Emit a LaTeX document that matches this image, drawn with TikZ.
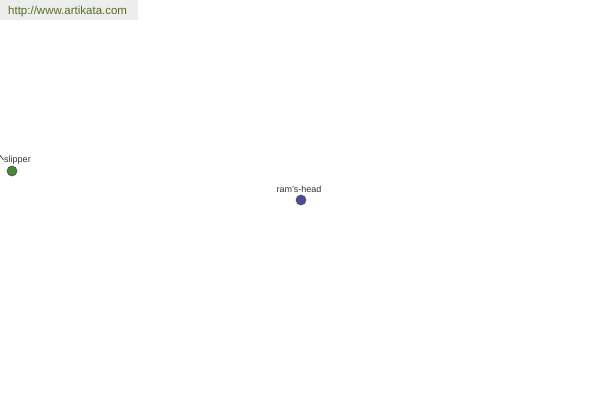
\documentclass[tikz,border=0pt]{standalone}
\usepackage{fontspec}
\setmainfont{Liberation Sans}
\begin{document}
\begin{tikzpicture}[x=1pt,y=-1pt,
  dot/.style={circle,draw=black!70,line width=0.6pt,minimum size=10pt,inner sep=0pt},
  lbl/.style={font=\fontsize{9}{10}\selectfont,text=black!80,inner sep=0.5pt},
  edge/.style={draw=black!80,line width=0.7pt}]
\useasboundingbox (0,0) rectangle (600,400);
\fill[black!7] (0,0) rectangle (138,20);
\node[anchor=west,font=\fontsize{11.5}{12}\selectfont,text={rgb,255:red,85;green,110;blue,30},inner sep=0pt] (hdr) at (8,11.5) {http://www.artikata.com};
\coordinate (off) at (-8,145);
\node[dot,fill={rgb,255:red,70;green,135;blue,60}] (slipper) at (12,171) {};
\node[dot,fill={rgb,255:red,75;green,75;blue,150}] (ram) at (301,200) {};
\node[lbl] (slipperlbl) at (17.5,160) {slipper};
\node[lbl] (ramlbl) at (299,189) {ram's-head};
\begin{scope}
\clip (0,0) rectangle (600,400);
\draw[edge] (off) -- (slipperlbl.west);
\end{scope}
\end{tikzpicture}
\end{document}
